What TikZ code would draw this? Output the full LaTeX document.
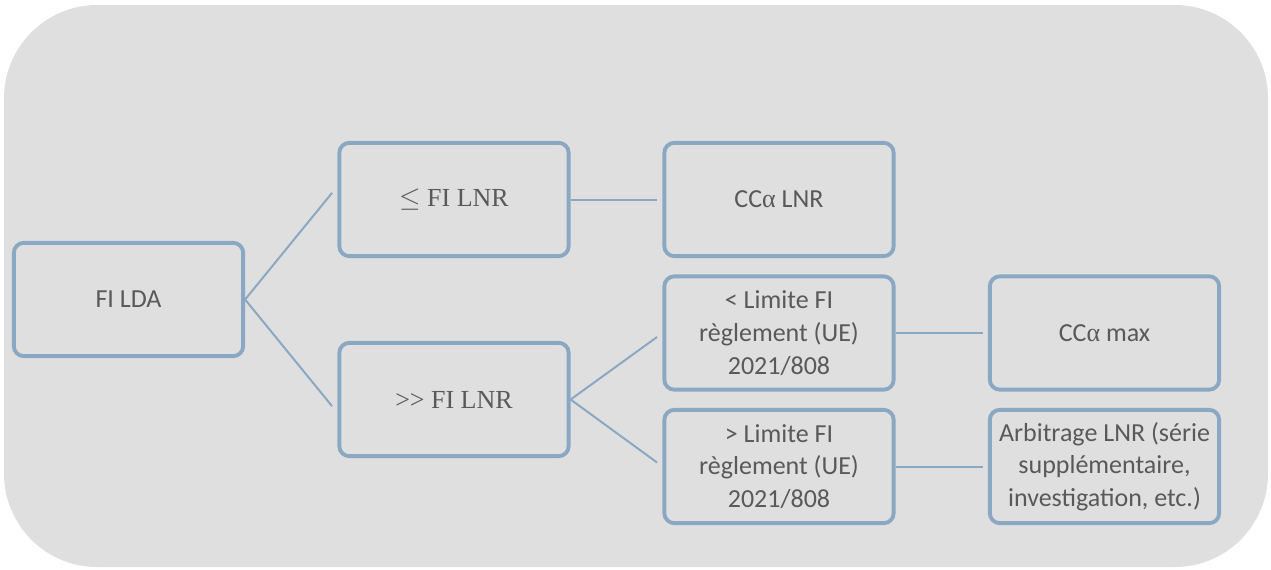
\documentclass[tikz,border=0pt]{standalone}
\usepackage{fontspec}
\setmainfont{Carlito}
\newfontfamily\serifx{Liberation Serif}
\definecolor{bg}{HTML}{DFDFDF}
\definecolor{edgec}{HTML}{8BA8C3}
\definecolor{txt}{HTML}{595959}
\begin{document}
\begin{tikzpicture}[x=0.75pt,y=-0.75pt,
  box/.style={draw=edgec, line width=2.9pt, fill=bg, rounded corners=7.5pt,
    minimum width=172pt, minimum height=85pt, text=txt,
    font=\fontsize{19.5}{24.5}\selectfont, align=center, inner sep=2pt},
  link/.style={draw=edgec, line width=1.5pt}]
\useasboundingbox (0,0) rectangle (1271,569);
\fill[bg, rounded corners=70pt] (4,5) rectangle (1268,567);
\node[box] (a) at (128.5,299.5) {FI LDA};
\node[box] (b) at (454,199.5) {{\serifx $\leq$ FI LNR}};
\node[box] (c) at (454,399.5) {{\serifx >> FI LNR}};
\node[box] (d) at (779,199.5) {CC{\serifx α} LNR};
\node[box] (e) at (779,333) {< Limite FI\\règlement (UE)\\2021/808};
\node[box] (f) at (779,466.5) {> Limite FI\\règlement (UE)\\2021/808};
\node[box] (g) at (1104.5,333) {CC{\serifx α} max};
\node[box] (h) at (1104.5,466.5) {Arbitrage LNR (série\\supplémentaire,\\investigation, etc.)};
\draw[link] (a.east) -- ([xshift=-4pt,yshift=5pt]b.west);
\draw[link] (a.east) -- ([xshift=-4pt,yshift=-5pt]c.west);
\draw[link] (b.east) -- ([xshift=-4pt]d.west);
\draw[link] (c.east) -- ([xshift=-4pt,yshift=-3pt]e.west);
\draw[link] (c.east) -- ([xshift=-4pt,yshift=3pt]f.west);
\draw[link] (e.east) -- ([xshift=-4pt]g.west);
\draw[link] (f.east) -- ([xshift=-4pt]h.west);
\end{tikzpicture}
\end{document}
